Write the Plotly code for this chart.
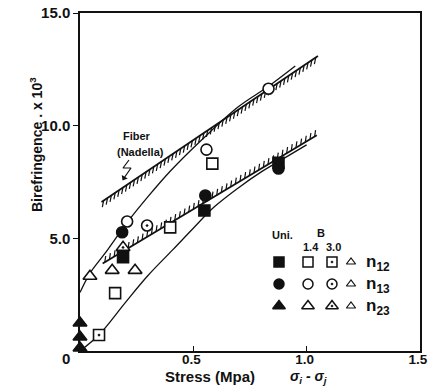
import numpy as np
import plotly.graph_objects as go

# ---------------- data ----------------
# Uniaxial (filled markers)
uni_n12_x = [0.19, 0.549, 0.876]
uni_n12_y = [4.16, 6.24, 8.36]
uni_n13_x = [0.186, 0.553, 0.876]
uni_n13_y = [5.27, 6.90, 8.10]
uni_n23_x = [0.0, 0.0, 0.0]
uni_n23_y = [0.13, 0.62, 1.24]
# Biaxial 1.4 (open markers)
b14_n12_x = [0.155, 0.398, 0.584]
b14_n12_y = [2.57, 5.49, 8.32]
b14_n13_x = [0.208, 0.558, 0.832]
b14_n13_y = [5.75, 8.94, 11.64]
b14_n23_x = [0.044, 0.142, 0.243]
b14_n23_y = [3.32, 3.58, 3.58]
# Biaxial 3.0 (dotted markers)
b30_n12_x = [0.084]
b30_n12_y = [0.71]
b30_n13_x = [0.296]
b30_n13_y = [5.57]
b30_n23_x = [0.19]
b30_n23_y = [4.60]

# Fitted curves (thin lines)
upper_curve_x = [0.0, 0.044, 0.11, 0.208, 0.30, 0.40, 0.54, 0.70, 0.832, 0.95]
upper_curve_y = [2.6, 3.45, 4.33, 5.70, 6.85, 8.00, 9.40, 10.85, 11.75, 12.65]
lower_curve_x = [0.0, 0.084, 0.20, 0.30, 0.41, 0.50, 0.593, 0.70, 0.80, 0.90, 1.00]
lower_curve_y = [0.0, 0.72, 2.15, 3.35, 4.50, 5.45, 6.40, 7.25, 7.95, 8.55, 9.15]

# Hatched straight lines
fiber_x = [0.095, 1.05]
fiber_y = [6.62, 13.1]
uni_fit_x = [0.10, 1.045]
uni_fit_y = [3.88, 9.58]

x_tick_vals = [0.5, 1.0, 1.5]
x_tick_text = ["0.5", "1.0", "1.5"]
y_tick_vals = [5, 10, 15]
y_tick_text = ["5.0", "10.0", "15.0"]

# ---------------- style / layout ----------------
W, H = 428, 391
L, R, T, B = 80, 420, 13, 351
FONT = "Liberation Sans"
BLACK = "#111111"


def px2paper(px, py):
    return (px - L) / (R - L), (B - py) / (B - T)


fig = go.Figure()


def hatch(xs, ys, n, dy, dx):
    t = np.linspace(0.01, 0.99, n)
    x = xs[0] + t * (xs[1] - xs[0])
    y = ys[0] + t * (ys[1] - ys[0])
    hx, hy = [], []
    for a, b in zip(x, y):
        hx += [a, a + dx, None]
        hy += [b, b + dy, None]
    return hx, hy


# thin curves
for cx, cy in [(upper_curve_x, upper_curve_y), (lower_curve_x, lower_curve_y)]:
    fig.add_trace(go.Scatter(x=cx, y=cy, mode="lines", line=dict(color=BLACK, width=1.3, shape="spline", smoothing=1.0),
                             hoverinfo="skip", showlegend=False))

# hatched lines
for lx, ly, n, dy, dx in [(fiber_x, fiber_y, 56, -0.3, -0.006), (uni_fit_x, uni_fit_y, 46, 0.28, 0.004)]:
    fig.add_trace(go.Scatter(x=lx, y=ly, mode="lines", line=dict(color=BLACK, width=1.8),
                             hoverinfo="skip", showlegend=False))
    hx, hy = hatch(lx, ly, n, dy, dx)
    fig.add_trace(go.Scatter(x=hx, y=hy, mode="lines", line=dict(color=BLACK, width=1.2),
                             hoverinfo="skip", showlegend=False))

series = [
    (uni_n12_x, uni_n12_y, "square", 11),
    (uni_n13_x, uni_n13_y, "circle", 11),
    (uni_n23_x, uni_n23_y, "triangle-up", 12),
    (b14_n12_x, b14_n12_y, "square-open", 11),
    (b14_n13_x, b14_n13_y, "circle-open", 11),
    (b14_n23_x, b14_n23_y, "triangle-up-open", 12),
    (b30_n12_x, b30_n12_y, "square-open-dot", 11),
    (b30_n13_x, b30_n13_y, "circle-open-dot", 11),
    (b30_n23_x, b30_n23_y, "triangle-up-open-dot", 12),
]
for sx, sy, sym, sz in series:
    # white backing so open markers hide the lines beneath them
    if "open" in sym:
        fig.add_trace(go.Scatter(x=sx, y=sy, mode="markers", cliponaxis=False, hoverinfo="skip",
                                 marker=dict(symbol=sym.replace("-open", "").replace("-dot", ""), size=sz - 1,
                                             color="white", line=dict(width=0)),
                                 showlegend=False))
    fig.add_trace(go.Scatter(x=sx, y=sy, mode="markers", cliponaxis=False,
                             marker=dict(symbol=sym, size=sz, color=BLACK,
                                         line=dict(color=BLACK, width=1.6)),
                             showlegend=False))

# ---------- legend keys on pixel overlay axis ----------
leg_cols = [279, 308, 332, 351]
leg_rows = [262, 284, 306]
leg_syms = [["square", "square-open", "square-open-dot", "triangle-up-open"],
            ["circle", "circle-open", "circle-open-dot", "triangle-up-open"],
            ["triangle-up", "triangle-up-open", "triangle-up-open-dot", "triangle-up-open"]]
for r, row in enumerate(leg_syms):
    for c, sym in enumerate(row):
        sz = 8 if c == 3 else (11 if "triangle" in sym else 10)
        fig.add_trace(go.Scatter(x=[leg_cols[c]], y=[leg_rows[r]], xaxis="x2", yaxis="y2", mode="markers",
                                 marker=dict(symbol=sym, size=sz, color=BLACK,
                                             line=dict(color=BLACK, width=1.5 if c < 3 else 1.2)),
                                 hoverinfo="skip", showlegend=False))

# zigzag arrow
fig.add_trace(go.Scatter(x=[129, 123, 131, 124], y=[160, 168, 168, 178], xaxis="x2", yaxis="y2", mode="lines",
                         line=dict(color=BLACK, width=1.2), hoverinfo="skip", showlegend=False))
fig.add_trace(go.Scatter(x=[124], y=[178], xaxis="x2", yaxis="y2", mode="markers",
                         marker=dict(symbol="triangle-down", size=6, color=BLACK, angle=30),
                         hoverinfo="skip", showlegend=False))

ann = []


def text(px, py, s, size=13, xanchor="center", angle=0):
    x, y = px2paper(px, py)
    ann.append(dict(x=x, y=y, xref="paper", yref="paper", text=s, showarrow=False, xanchor=xanchor,
                    yanchor="middle", textangle=angle,
                    font=dict(family=FONT, size=size, color=BLACK, weight="bold")))


text(137, 136, "Fiber", 11)
text(140, 152, "(Nadella)", 11)
text(282, 235, "Uni.", 11)
text(321, 233, "B", 11)
text(311, 247, "1.4", 11)
text(333, 247, "3.0", 11)
for r, sub in zip(leg_rows, ["12", "13", "23"]):
    text(364, r + 1, "n<sub>%s</sub>" % sub, 17, xanchor="left")
text(66, 358, "0", 15)
text(210, 376, "Stress (Mpa)", 15)
text(308, 377, "<i>σ<sub>i</sub> - σ<sub>j</sub></i>", 14)
text(36, 144, "Birefringence . x 10<sup>3</sup>", 14, angle=-90)

axis_common = dict(showgrid=False, zeroline=False, showline=True, linecolor=BLACK, linewidth=1.5, mirror=True,
                   tickcolor=BLACK, ticklen=5, tickwidth=1.3, automargin=False)

fig.update_layout(
    width=W, height=H, margin=dict(l=L, r=W - R, t=T, b=H - B, autoexpand=False),
    paper_bgcolor="white", plot_bgcolor="white", showlegend=False,
    xaxis=dict(range=[0, 1.5005], tickvals=x_tick_vals, ticktext=x_tick_text, ticks="inside",
               ticklabelstandoff=-5, ticklabeloverflow="allow", ticklabelshift=-2,
               tickfont=dict(family=FONT, size=13.5, color=BLACK, weight="bold"), **axis_common),
    yaxis=dict(range=[0, 15.005], tickvals=y_tick_vals, ticktext=y_tick_text, ticks="outside",
               tickfont=dict(family=FONT, size=15, color=BLACK, weight="bold"), **axis_common),
    xaxis2=dict(range=[L, R], overlaying="x", visible=False, fixedrange=True),
    yaxis2=dict(range=[B, T], overlaying="y", visible=False, fixedrange=True),
    annotations=ann,
)

fig.write_html("out.html")
